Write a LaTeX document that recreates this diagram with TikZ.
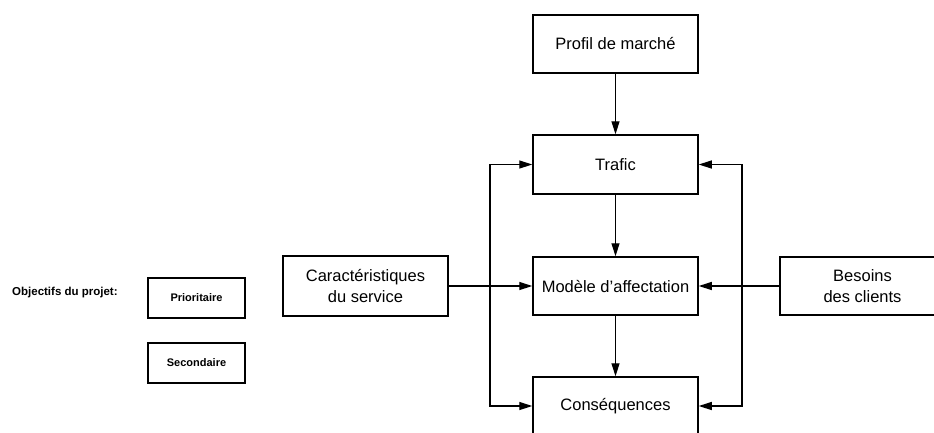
\documentclass[tikz,border=0pt]{standalone}
\usepackage{fontspec}
\setmainfont{Liberation Sans}
\usetikzlibrary{arrows.meta}
\begin{document}
\begin{tikzpicture}[x=1pt,y=-1pt,
  box/.style={draw,line width=1.5pt,minimum width=165pt,minimum height=58pt,inner sep=0pt,align=center,font=\fontsize{16.5}{21.5}\selectfont},
  smallbox/.style={draw,line width=1.3pt,minimum width=97pt,minimum height=40pt,inner sep=0pt,font=\fontsize{11}{13}\selectfont\bfseries},
  conn/.style={line width=1.4pt,-{Triangle[length=13pt,width=8pt]}}]
\useasboundingbox (0,0) rectangle (934,432);
\clip (0,0) rectangle (934,432);
\fill[white] (0,0) rectangle (934,432);

\node[box] (profil) at (615.5,44) {Profil de marché};
\node[box,minimum height=59pt] (trafic) at (615.5,164.5) {Trafic};
\node[box] (modele) at (615.5,286) {Modèle d'affectation};
\node[box] (cons) at (615.5,406) {Conséquences};
\node[box,minimum height=60pt] (carac) at (365.5,286) {Caractéristiques\\du service};
\node[box,minimum height=58pt] (besoins) at (862.5,286) {Besoins\\des clients};

\node[anchor=west,font=\fontsize{11.5}{13}\selectfont\bfseries,inner sep=0pt] (obj) at (12,293) {Objectifs du projet:};
\node[smallbox] (prio) at (196.5,298) {Prioritaire};
\node[smallbox] (sec) at (196.5,363) {Secondaire};

\draw[conn] (profil) -- (trafic);
\draw[conn] (trafic) -- (modele);
\draw[conn] (modele) -- (cons);

\coordinate (jl) at (490,286);
\coordinate (jr) at (742,286);
\draw[conn] (carac.east) -- (modele.west);
\draw[conn] (jl) |- (trafic.west);
\draw[conn] (jl) |- (cons.west);
\draw[conn] (besoins.west) -- (modele.east);
\draw[conn] (jr) |- (trafic.east);
\draw[conn] (jr) |- (cons.east);
\end{tikzpicture}
\end{document}
